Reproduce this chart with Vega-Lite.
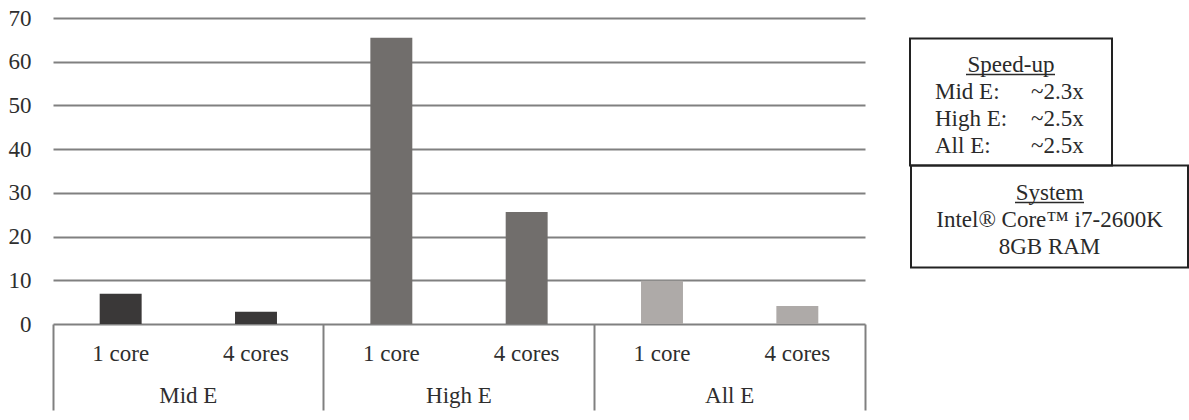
{
  "$schema": "https://vega.github.io/schema/vega-lite/v6.json",
  "padding": {"left": 8, "top": 7, "right": 0, "bottom": 5},
  "background": "white",
  "config": {
    "font": "Liberation Serif",
    "text": {"font": "Liberation Serif"},
    "axis": {"labelFont": "Liberation Serif", "labelFontSize": 23, "labelColor": "#2e2e2e"}
  },
  "datasets": {
    "times": [
      {"group": "Mid E", "cores": "1 core", "key": "Mid E|1 core", "time": 6.9},
      {"group": "Mid E", "cores": "4 cores", "key": "Mid E|4 cores", "time": 2.8},
      {"group": "High E", "cores": "1 core", "key": "High E|1 core", "time": 65.5},
      {"group": "High E", "cores": "4 cores", "key": "High E|4 cores", "time": 25.6},
      {"group": "All E", "cores": "1 core", "key": "All E|1 core", "time": 9.9},
      {"group": "All E", "cores": "4 cores", "key": "All E|4 cores", "time": 4.1}
    ],
    "speedup": [
      {"name": "Mid E:", "factor": "~2.3x"},
      {"name": "High E:", "factor": "~2.5x"},
      {"name": "All E:", "factor": "~2.5x"}
    ],
    "system": [
      {"box": "System", "line": "System"},
      {"box": "System", "line": "Intel® Core™ i7-2600K"},
      {"box": "System", "line": "8GB RAM"}
    ]
  },
  "width": 812,
  "height": 306,
  "view": {"stroke": null},
  "resolve": {"scale": {"x": "independent", "y": "independent"}, "axis": {"x": "independent", "y": "independent"}},
  "layer": [
    {
      "data": {"name": "times"},
      "mark": {"type": "bar", "width": {"band": 0.31}},
      "encoding": {
        "x": {
          "field": "key", "type": "nominal", "sort": null,
          "scale": {"type": "band", "domain": ["Mid E|1 core", "Mid E|4 cores", "High E|1 core", "High E|4 cores", "All E|1 core", "All E|4 cores"], "paddingInner": 0, "paddingOuter": 0},
          "axis": {"orient": "bottom", "title": null, "domain": false, "ticks": false, "labelPadding": 18, "labelAngle": 0, "labelExpr": "split(datum.label, '|')[1]"}
        },
        "y": {
          "field": "time", "type": "quantitative",
          "scale": {"domain": [0, 70], "nice": false},
          "axis": {"orient": "left", "title": null, "domain": false, "ticks": false, "labelPadding": 22, "values": [0, 10, 20, 30, 40, 50, 60, 70], "gridColor": "#808080", "gridWidth": 2, "gridOpacity": 1}
        },
        "color": {
          "field": "group", "type": "nominal",
          "scale": {"domain": ["Mid E", "High E", "All E"], "range": ["#3a3838", "#716e6c", "#aeaaa8"]},
          "legend": null
        }
      }
    },
    {
      "data": {"name": "times"},
      "mark": {"type": "point", "opacity": 0},
      "encoding": {
        "x": {
          "field": "group", "type": "nominal", "sort": null,
          "scale": {"type": "band", "domain": ["Mid E", "High E", "All E"], "paddingInner": 0, "paddingOuter": 0},
          "axis": {"orient": "bottom", "title": null, "domain": false, "ticks": false, "labelPadding": 60, "labelAngle": 0}
        }
      }
    },
    {
      "data": {"name": "times"},
      "mark": {"type": "point", "opacity": 0},
      "encoding": {
        "x": {
          "field": "key", "type": "nominal", "sort": null,
          "scale": {"type": "band", "domain": ["Mid E|1 core", "Mid E|4 cores", "High E|1 core", "High E|4 cores", "All E|1 core", "All E|4 cores"], "paddingInner": 0, "paddingOuter": 0},
          "axis": {"orient": "bottom", "title": null, "domain": false, "labels": false, "ticks": true, "tickSize": 86, "tickColor": "#808080", "tickWidth": 2, "bandPosition": 0, "values": ["Mid E|1 core", "High E|1 core", "All E|1 core"]}
        }
      }
    },
    {
      "data": {"name": "times"},
      "mark": {"type": "point", "opacity": 0},
      "encoding": {
        "x": {
          "field": "key", "type": "nominal", "sort": null,
          "scale": {"type": "band", "domain": ["Mid E|1 core", "Mid E|4 cores", "High E|1 core", "High E|4 cores", "All E|1 core", "All E|4 cores"], "paddingInner": 0, "paddingOuter": 0},
          "axis": {"orient": "bottom", "title": null, "domain": false, "labels": false, "ticks": true, "tickSize": 86, "tickColor": "#808080", "tickWidth": 2, "bandPosition": 1, "values": ["All E|4 cores"]}
        }
      }
    },
    {
      "data": {"values": [{"box": "Speed-up"}]},
      "mark": {"type": "rect", "filled": false, "stroke": "#222222", "strokeWidth": 2},
      "encoding": {
        "x": {"field": "box", "type": "nominal", "axis": null,
          "scale": {"type": "band", "range": [857, 1059], "paddingInner": 0, "paddingOuter": 0}},
        "y": {"field": "box", "type": "nominal", "axis": null,
          "scale": {"type": "band", "range": [20.5, 147.5], "paddingInner": 0, "paddingOuter": 0}}
      }
    },
    {
      "data": {"values": [{"box": "Speed-up"}]},
      "mark": {"type": "text", "fontSize": 23, "color": "#2a2a2a"},
      "encoding": {
        "x": {"field": "box", "type": "nominal", "axis": null,
          "scale": {"type": "band", "range": [857, 1059], "paddingInner": 0, "paddingOuter": 0}},
        "y": {"field": "box", "type": "nominal", "axis": null,
          "scale": {"type": "band", "domain": ["Speed-up", "Mid E:", "High E:", "All E:"], "range": [20.5, 147.5], "paddingOuter": 0.352, "paddingInner": 0, "align": 0.66}},
        "text": {"field": "box"}
      }
    },
    {
      "data": {"values": [{"box": "Speed-up"}]},
      "mark": {"type": "rect", "color": "#2a2a2a"},
      "encoding": {
        "x": {"field": "box", "type": "nominal", "axis": null,
          "scale": {"type": "band", "range": [913, 1002], "paddingInner": 0, "paddingOuter": 0}},
        "y": {"field": "box", "type": "nominal", "axis": null,
          "scale": {"type": "band", "range": [55.8, 57.3], "paddingInner": 0, "paddingOuter": 0}}
      }
    },
    {
      "data": {"name": "speedup"},
      "transform": [{"fold": ["name", "factor"], "as": ["col", "txt"]}],
      "mark": {"type": "text", "fontSize": 23, "color": "#2a2a2a", "align": "left"},
      "encoding": {
        "y": {"field": "name", "type": "nominal", "axis": null,
          "scale": {"type": "band", "domain": ["Speed-up", "Mid E:", "High E:", "All E:"], "range": [20.5, 147.5], "paddingOuter": 0.352, "paddingInner": 0, "align": 0.66}},
        "x": {"field": "col", "type": "nominal", "axis": null,
          "scale": {"type": "point", "domain": ["name", "factor"], "range": [857, 1059], "padding": 0.552, "align": 0.236}},
        "text": {"field": "txt"}
      }
    },
    {
      "data": {"values": [{"box": "System"}]},
      "mark": {"type": "rect", "filled": false, "stroke": "#222222", "strokeWidth": 2},
      "encoding": {
        "x": {"field": "box", "type": "nominal", "axis": null,
          "scale": {"type": "band", "range": [858, 1135], "paddingInner": 0, "paddingOuter": 0}},
        "y": {"field": "box", "type": "nominal", "axis": null,
          "scale": {"type": "band", "range": [147.5, 249.5], "paddingInner": 0, "paddingOuter": 0}}
      }
    },
    {
      "data": {"values": [{"box": "System"}]},
      "mark": {"type": "rect", "color": "#2a2a2a"},
      "encoding": {
        "x": {"field": "box", "type": "nominal", "axis": null,
          "scale": {"type": "band", "range": [962, 1031], "paddingInner": 0, "paddingOuter": 0}},
        "y": {"field": "box", "type": "nominal", "axis": null,
          "scale": {"type": "band", "range": [183.8, 185.3], "paddingInner": 0, "paddingOuter": 0}}
      }
    },
    {
      "data": {"name": "system"},
      "mark": {"type": "text", "fontSize": 23, "color": "#2a2a2a"},
      "encoding": {
        "x": {"field": "box", "type": "nominal", "axis": null,
          "scale": {"type": "band", "range": [858, 1135], "paddingInner": 0, "paddingOuter": 0}},
        "y": {"field": "line", "type": "nominal", "sort": null, "axis": null,
          "scale": {"type": "band", "range": [147.5, 249.5], "paddingOuter": 0.389, "paddingInner": 0, "align": 0.643}},
        "text": {"field": "line"}
      }
    }
  ]
}
